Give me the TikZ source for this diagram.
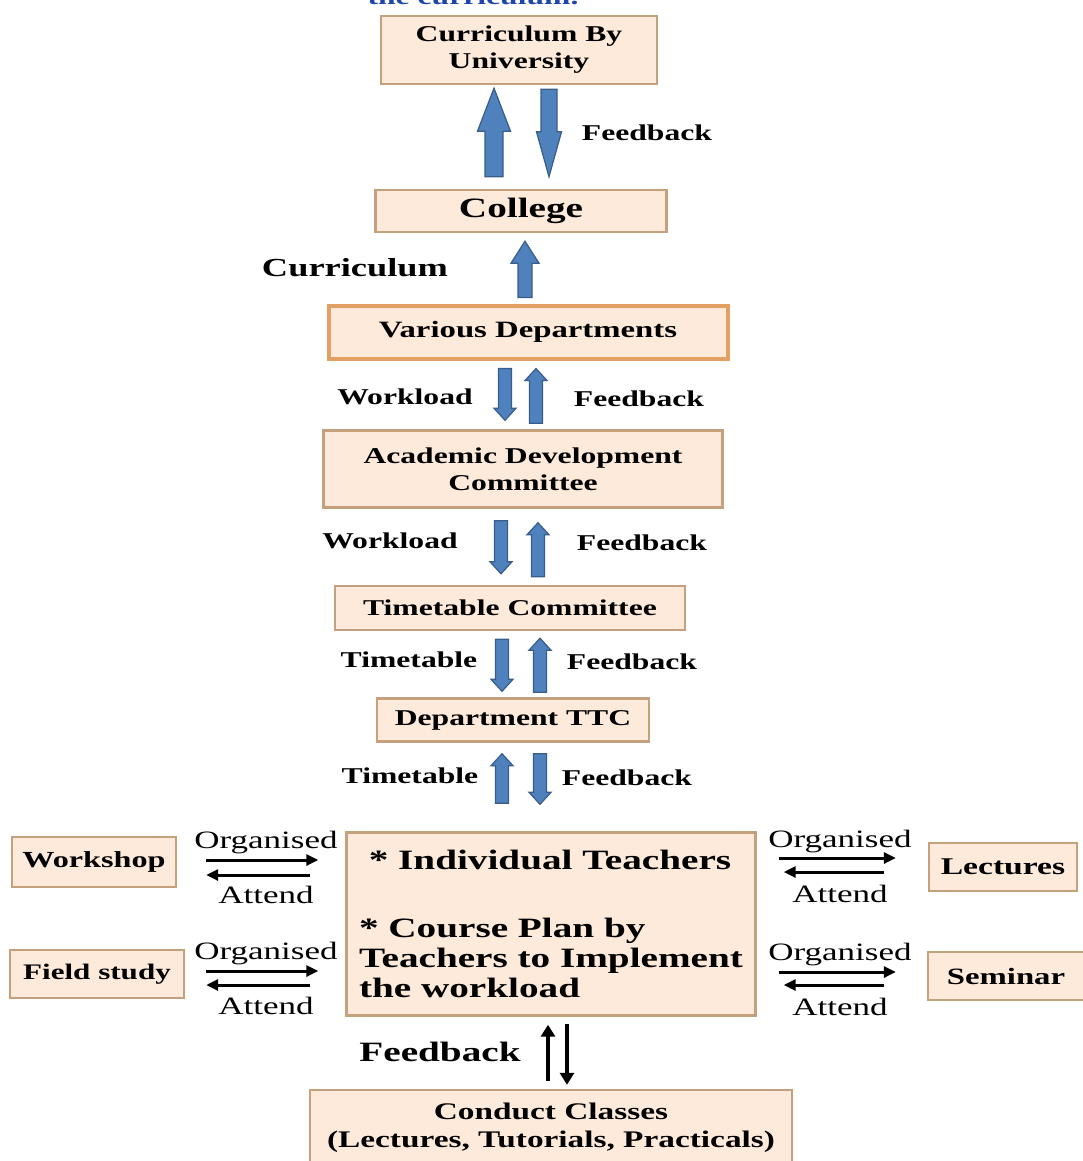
\documentclass[tikz,border=0pt]{standalone}
\usepackage{fontspec}
\setmainfont{Liberation Serif}[FakeStretch=1.4]
\usetikzlibrary{calc,arrows.meta}

\definecolor{boxfill}{RGB}{253,234,218}
\definecolor{boxline}{RGB}{196,160,124}
\definecolor{deptline}{RGB}{226,160,100}
\definecolor{arrowfill}{RGB}{79,129,189}
\definecolor{arrowline}{RGB}{56,93,138}
\definecolor{titleblue}{RGB}{30,70,170}

\tikzset{
  box/.style={draw=boxline, fill=boxfill, line width=1.2pt, inner sep=2pt, align=center,
    font=\bfseries\fontsize{11.3}{13.5}\selectfont},
  lbl/.style={font=\bfseries\fontsize{11.3}{13.5}\selectfont},
  note/.style={font=\fontsize{12.5}{14}\selectfont},
  side/.style={line width=1.5pt, -{Triangle[length=6pt,width=5.5pt]}},
  thinarrow/.style={line width=1.6pt, -{Triangle[length=6pt,width=7pt]}},
  % vertical block arrow: shaft half width, head half width, head length
  fat/.style n args={3}{draw=arrowline, fill=arrowfill, line width=0.6pt,
    to path={let \p1=(\tikztostart), \p2=(\tikztotarget),
      \n1={\y2-(\y2>\y1)*2*#3+#3} in
      (\x1-#1,\y1) -- (\x1-#1,{\n1*1pt}) -- (\x1-#2,{\n1*1pt}) -- (\x1,\y2)
      -- (\x1+#2,{\n1*1pt}) -- (\x1+#1,{\n1*1pt}) -- (\x1+#1,\y1) -- cycle}}
}

\begin{document}
\begin{tikzpicture}[x=0.5pt,y=-0.5pt]
  \useasboundingbox (0,0) rectangle (1082,1161);

  % title line, cut off at the top
  \node[anchor=base, text=titleblue, font=\bfseries\fontsize{11.3}{13}\selectfont] (title) at (473,5) {the curriculum.};

  % main chain
  \node[box, minimum width=138pt, minimum height=34pt] (univ) at (519,50) {Curriculum By\\University};
  \node[box, minimum width=145.5pt, minimum height=21pt, font=\bfseries\fontsize{14}{16}\selectfont] (college) at (521,211) {College};
  \node[box, draw=deptline, line width=2pt, minimum width=199.5pt, minimum height=26.5pt, font=\bfseries\fontsize{11.7}{14}\selectfont] (vdept) at (528,332) {Various Departments};
  \node[box, minimum width=199.5pt, minimum height=38.5pt] (adc) at (523,469) {Academic Development\\Committee};
  \node[box, minimum width=175pt, minimum height=22pt] (ttc) at (510,608) {Timetable Committee};
  \node[box, minimum width=136pt, minimum height=21.5pt] (dttc) at (513,720) {Department TTC};
  \node[box, minimum width=204.5pt, minimum height=91.5pt, align=left, font=\bfseries\fontsize{14}{15}\selectfont] (teach) at (551,924)
    {\ * Individual Teachers\\[19pt]* Course Plan by\\Teachers to Implement\\the workload};
  \node[box, minimum width=241pt, minimum height=38pt, font=\bfseries\fontsize{11.9}{14}\selectfont] (conduct) at (551,1128)
    {Conduct Classes\\(Lectures, Tutorials, Practicals)};

  % side activities
  \node[box, minimum width=82pt, minimum height=25pt, font=\bfseries\fontsize{11.5}{13}\selectfont] (work) at (94,862) {Workshop};
  \node[box, minimum width=87pt, minimum height=24pt, font=\bfseries\fontsize{11.1}{13}\selectfont] (field) at (97,974) {Field study};
  \node[box, minimum width=74pt, minimum height=24pt, font=\bfseries\fontsize{12}{14}\selectfont] (lect) at (1003,867) {Lectures};
  \node[box, minimum width=78pt, minimum height=24pt, font=\bfseries\fontsize{11.7}{14}\selectfont] (sem) at (1006,976) {Seminar};

  % block arrows
  \draw[fat={4.5pt}{8.25pt}{21.5pt}] ($(college.north)+(-27,-12)$) to ($(univ.south)+(-27,3)$);
  \draw[fat={4pt}{6.25pt}{22.5pt}] ($(univ.south)+(30,4)$) to ($(college.north)+(30,-12)$);
  \draw[fat={3.5pt}{7pt}{11pt}] ($(vdept.north)+(-3,-6)$) to ($(college.south)+(4,8)$);

  \draw[fat={3.25pt}{5.5pt}{6pt}] ($(vdept.south)+(-23,8)$) to ($(adc.north)+(-18,-9)$);
  \draw[fat={3.25pt}{5.5pt}{6pt}] ($(adc.north)+(13,-6)$) to ($(vdept.south)+(8,8)$);
  \draw[fat={3.25pt}{5.5pt}{6pt}] ($(adc.south)+(-22,12)$) to ($(ttc.north)+(-9,-11)$);
  \draw[fat={3.25pt}{5.5pt}{6pt}] ($(ttc.north)+(28,-8)$) to ($(adc.south)+(15,14)$);
  \draw[fat={3.25pt}{5.5pt}{6pt}] ($(ttc.south)+(-8,8)$) to ($(dttc.north)+(-11,-6)$);
  \draw[fat={3.25pt}{5.5pt}{6pt}] ($(dttc.north)+(27,-5)$) to ($(ttc.south)+(30,7)$);
  \draw[fat={3.25pt}{5.5pt}{6pt}] ($(teach.north)+(-49,-28)$) to ($(dttc.south)+(-11,11)$);
  \draw[fat={3.25pt}{5.5pt}{6pt}] ($(dttc.south)+(27,11)$) to ($(teach.north)+(-11,-27)$);

  % labels of the chain
  \node[lbl] (fb1) at (647,133) {Feedback};
  \node[lbl, font=\bfseries\fontsize{13}{15}\selectfont] (curr) at (355,268) {Curriculum};
  \node[lbl] (wl1) at (405,397) {Workload};
  \node[lbl] (fb2) at (639,399) {Feedback};
  \node[lbl] (wl2) at (390,541) {Workload};
  \node[lbl] (fb3) at (642,543) {Feedback};
  \node[lbl] (tt1) at (409,660) {Timetable};
  \node[lbl] (fb4) at (632,662) {Feedback};
  \node[lbl] (tt2) at (410,776) {Timetable};
  \node[lbl] (fb5) at (627,778) {Feedback};

  % classes feedback
  \draw[thinarrow] ($(conduct.north)+(-3,-8)$) -- ($(teach.south)+(-3,8)$);
  \draw[thinarrow] ($(teach.south)+(16,7)$) -- ($(conduct.north)+(16,-4)$);
  \node[lbl, font=\bfseries\fontsize{14}{16}\selectfont] (fb6) at (440,1052) {Feedback};

  % organised / attend
  \draw[side] ($(work.east)+(29,-2)$) -- ($(teach.west |- work.east)+(-27,-2)$);
  \draw[side] ($(teach.west |- work.east)+(-35,13)$) -- ($(work.east)+(29,13)$);
  \draw[side] ($(field.east)+(21,-3)$) -- ($(teach.west |- field.east)+(-27,-3)$);
  \draw[side] ($(teach.west |- field.east)+(-35,11)$) -- ($(field.east)+(21,11)$);
  \draw[side] ($(teach.east |- lect.west)+(22,-9)$) -- ($(lect.west)+(-32,-9)$);
  \draw[side] ($(lect.west)+(-44,5)$) -- ($(teach.east |- lect.west)+(27,5)$);
  \draw[side] ($(teach.east |- sem.west)+(22,-4)$) -- ($(sem.west)+(-31,-4)$);
  \draw[side] ($(sem.west)+(-43,9)$) -- ($(teach.east |- sem.west)+(27,9)$);

  \foreach \nm/\px/\py in {w/266/843, f/266/954, l/840/842, s/840/955} {
    \node[note] (org\nm) at (\px,\py) {Organised};
    \node[note] (att\nm) at (\px,\py+52) {Attend};
  }
\end{tikzpicture}
\end{document}
